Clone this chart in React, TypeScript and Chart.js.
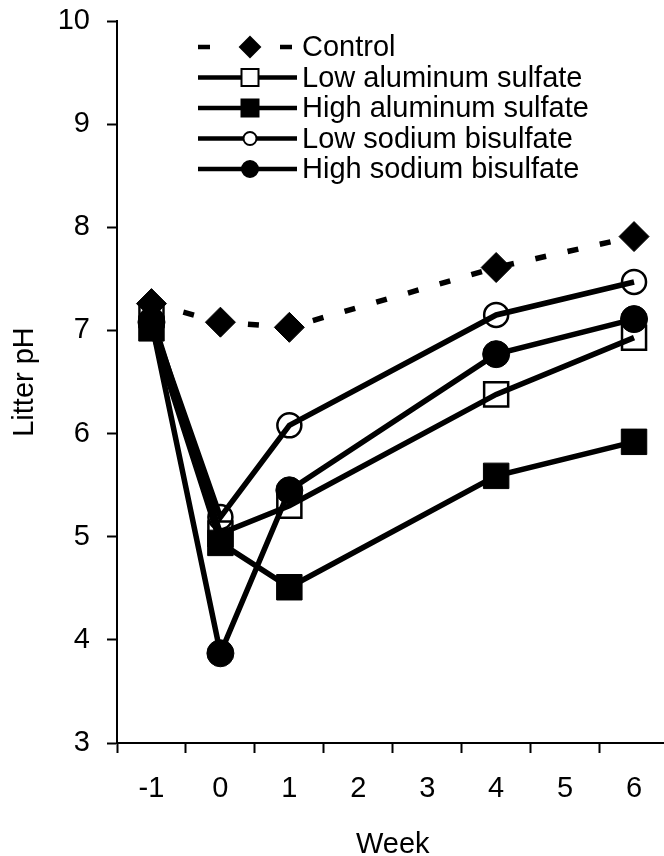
import React, { useEffect, useRef } from 'react';
import { Chart, registerables } from 'chart.js';

Chart.register(...registerables);

const weekLabels = ['-1', '0', '1', '2', '3', '4', '5', '6'];
const sampleWeeks = ['-1', '0', '1', '4', '6'];
const seriesNames = [
  'Control',
  'Low aluminum sulfate',
  'High aluminum sulfate',
  'Low sodium bisulfate',
  'High sodium bisulfate',
];
const control = [7.26, 7.08, 7.03, 7.61, 7.91];
const lowAlum = [7.15, 5.03, 5.3, 6.38, 6.93];
const highAlum = [7.02, 4.94, 4.51, 5.59, 5.92];
const lowBisulfate = [7.1, 5.19, 6.08, 7.15, 7.47];
const highBisulfate = [7.08, 3.87, 5.45, 6.77, 7.11];
const yMin = 3;
const yMax = 10;

const FONT = '"Liberation Sans", Arial, Helvetica, sans-serif';

const toPoints = (vals: number[]) => sampleWeeks.map((w, i) => ({ x: w, y: vals[i] }));

type Marker = { style: string; filled: boolean; r: number };
const legendMarkers: Marker[] = [
  { style: 'diamond', filled: true, r: 10 },
  { style: 'square', filled: false, r: 8.5 },
  { style: 'square', filled: true, r: 8.5 },
  { style: 'circle', filled: false, r: 6.5 },
  { style: 'circle', filled: true, r: 8 },
];

const insideLegend = {
  id: 'insideLegend',
  afterDraw(chart: any) {
    const { ctx, chartArea } = chart;
    const x0 = chartArea.left + 81;
    const x1 = chartArea.left + 180;
    const mx = chartArea.left + 133;
    const tx = chartArea.left + 185;
    ctx.save();
    seriesNames.forEach((name, i) => {
      const y = chartArea.top + 26 + i * 30.5;
      ctx.strokeStyle = '#000';
      ctx.lineWidth = 4.5;
      ctx.lineCap = 'butt';
      if (i === 0) ctx.setLineDash([12, 70]);
      else ctx.setLineDash([]);
      ctx.beginPath();
      ctx.moveTo(x0, y);
      ctx.lineTo(i === 0 ? x1 - 5 : x1, y);
      ctx.stroke();
      ctx.setLineDash([]);
      const m = legendMarkers[i];
      ctx.beginPath();
      if (m.style === 'diamond') {
        ctx.moveTo(mx, y - m.r);
        ctx.lineTo(mx + m.r, y);
        ctx.lineTo(mx, y + m.r);
        ctx.lineTo(mx - m.r, y);
        ctx.closePath();
      } else if (m.style === 'square') {
        ctx.rect(mx - m.r, y - m.r, 2 * m.r, 2 * m.r);
      } else {
        ctx.arc(mx, y, m.r, 0, Math.PI * 2);
      }
      ctx.fillStyle = m.filled ? '#000' : '#fff';
      ctx.fill();
      ctx.lineWidth = 2;
      ctx.stroke();
      ctx.fillStyle = '#000';
      ctx.font = `29px ${FONT}`;
      ctx.textAlign = 'left';
      ctx.textBaseline = 'middle';
      ctx.fillText(name, tx, y + 1);
    });
    ctx.restore();
  },
};

export default function App() {
  const ref = useRef<HTMLCanvasElement | null>(null);
  useEffect(() => {
    if (!ref.current) return;
    const common = {
      borderColor: '#000',
      borderWidth: 5.5,
      pointBorderColor: '#000',
      tension: 0,
    };
    const chart = new Chart(ref.current, {
      type: 'line',
      data: {
        labels: weekLabels,
        datasets: [
          {
            ...common,
            label: seriesNames[0],
            data: toPoints(control),
            borderDash: [11, 22],
            pointStyle: 'rectRot',
            pointRadius: 15,
            pointBackgroundColor: '#000',
            pointBorderWidth: 1,
            order: 5,
          },
          {
            ...common,
            label: seriesNames[1],
            data: toPoints(lowAlum),
            pointStyle: 'rect',
            pointRadius: 17,
            pointBackgroundColor: 'rgba(0,0,0,0)',
            pointBorderWidth: 2.5,
            order: 4,
          },
          {
            ...common,
            label: seriesNames[2],
            data: toPoints(highAlum),
            pointStyle: 'rect',
            pointRadius: 18,
            pointBackgroundColor: '#000',
            pointBorderWidth: 1,
            order: 3,
          },
          {
            ...common,
            label: seriesNames[3],
            data: toPoints(lowBisulfate),
            pointStyle: 'circle',
            pointRadius: 12,
            pointBackgroundColor: 'rgba(0,0,0,0)',
            pointBorderWidth: 2.5,
            order: 2,
          },
          {
            ...common,
            label: seriesNames[4],
            data: toPoints(highBisulfate),
            pointStyle: 'circle',
            pointRadius: 13.5,
            pointBackgroundColor: '#000',
            pointBorderWidth: 1,
            order: 1,
          },
        ],
      } as any,
      options: {
        animation: false,
        responsive: false,
        maintainAspectRatio: false,
        layout: { padding: { top: 21, right: 11, left: 0, bottom: 0 } },
        plugins: { legend: { display: false }, tooltip: { enabled: false } },
        scales: {
          x: {
            type: 'category',
            labels: weekLabels,
            offset: true,
            grid: {
              offset: true,
              drawOnChartArea: false,
              drawTicks: true,
              tickLength: 10,
              tickWidth: 2,
              tickColor: '#000',
            },
            border: { display: true, color: '#000', width: 2 },
            ticks: {
              color: '#000',
              font: { family: FONT, size: 29 },
              padding: 19,
              autoSkip: false,
              maxRotation: 0,
            },
            title: {
              display: true,
              text: 'Week',
              color: '#000',
              font: { family: FONT, size: 29, lineHeight: 0.75 },
              padding: 0,
            },
            afterFit: (s: any) => {
              s.height = 113;
            },
          },
          y: {
            min: yMin,
            max: yMax,
            grid: {
              drawOnChartArea: false,
              drawTicks: true,
              tickLength: 10,
              tickWidth: 2,
              tickColor: '#000',
            },
            border: { display: true, color: '#000', width: 2 },
            ticks: {
              stepSize: 1,
              color: '#000',
              font: { family: FONT, size: 29 },
              padding: 17,
            },
            title: {
              display: true,
              text: 'Litter pH',
              color: '#000',
              font: { family: FONT, size: 29, lineHeight: 1 },
              padding: { top: 10, bottom: 0 },
            },
            afterFit: (s: any) => {
              s.width = 117;
              s.paddingTop = 0;
              s.paddingBottom = 0;
            },
          },
        },
      } as any,
      plugins: [insideLegend],
    });
    return () => chart.destroy();
  }, []);
  return (
    <div
      style={{
        position: 'absolute',
        left: 0,
        top: 0,
        width: 664,
        height: 856,
        overflow: 'hidden',
        background: '#fff',
      }}
    >
      <canvas ref={ref} width={688} height={856} style={{ display: 'block', width: 688, height: 856 }} />
    </div>
  );
}
